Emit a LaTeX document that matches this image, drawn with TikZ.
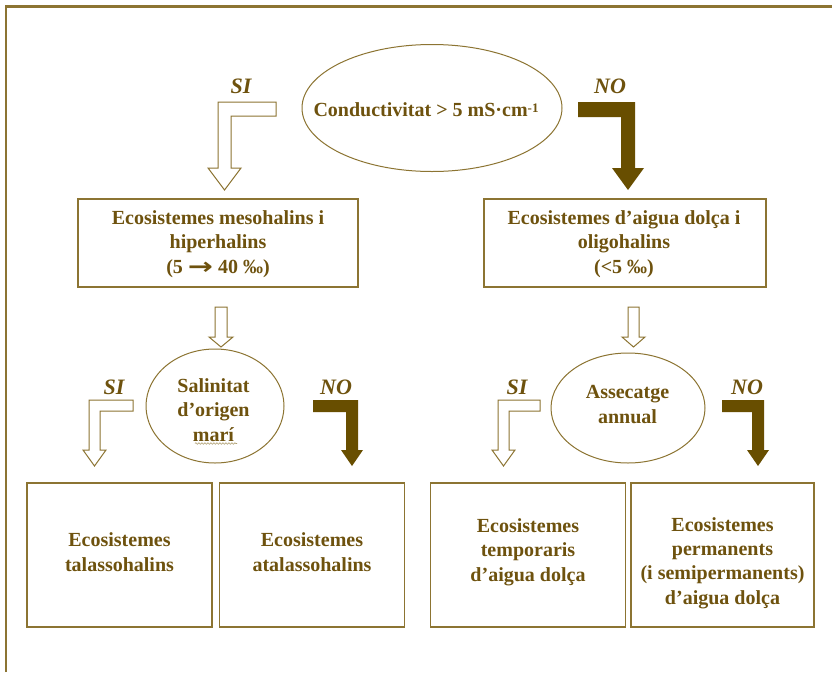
\documentclass[tikz,border=0pt]{standalone}
\usepackage{fontspec}
\setmainfont{Liberation Serif}
\newfontfamily\dejavu{DejaVu Sans}
\usetikzlibrary{shapes.geometric,decorations.pathmorphing}
\definecolor{txtc}{RGB}{110,82,14}
\definecolor{linec}{RGB}{140,116,50}
\definecolor{fillc}{RGB}{104,78,0}
\begin{document}
\begin{tikzpicture}[x=1pt,y=-1pt,
  every node/.style={font=\fontsize{20}{24.3}\selectfont\bfseries, text=txtc, align=center, inner sep=0pt},
  boxn/.style={draw=linec, line width=1.4pt, rectangle},
  elln/.style={draw=linec, line width=1pt, ellipse},
  lab/.style={font=\fontsize{22}{24}\selectfont\bfseries\itshape},
  hollowarrow/.style={draw=linec, line width=1pt, fill=white, line join=miter},
  fullarrow/.style={fill=fillc, draw=none}
]
\useasboundingbox (0,0) rectangle (832,672);
\fill[white] (0,0) rectangle (832,672);
% outer frame
\draw[linec, line width=2.2pt] (6,672) -- (6,6.5) -- (832,6.5);

% top ellipse
\node[elln, minimum width=260, minimum height=127] (e1) at (432,108) {};
\node (t1) at (426,110) {Conductivitat > 5 mS·cm\raisebox{0.5ex}{\fontsize{13}{13}\selectfont -1}};

\node[lab] (si1) at (241,86) {SI};
\node[lab] (no1) at (610,86) {NO};

% first level boxes
\node[boxn, minimum width=280, minimum height=88] (b1) at (218,243) {};
\node (tb1) at (218,244) {Ecosistemes mesohalins i\\hiperhalins\\(5 \raisebox{-0.2ex}{\scalebox{1.5}[1.15]{\dejavu\bfseries →}} 40 ‰)};
\node[boxn, minimum width=282, minimum height=88] (b2) at (625,243) {};
\node (tb2) at (624,244) {Ecosistemes d’aigua dolça i\\oligohalins\\(<5 ‰)};

% top arrows
\draw[hollowarrow] (276,102) -- (218,102) -- (218,168) -- (208,168) -- (224.5,190) -- (241,168) -- (231,168) -- (231,116) -- (276,116) -- cycle;
\fill[fullarrow] (578,102) -- (635,102) -- (635,168) -- (644,168) -- (628,190) -- (612,168) -- (621,168) -- (621,117) -- (578,117) -- cycle;

% small down arrows
\draw[hollowarrow] (215,307) -- (227,307) -- (227,337) -- (233,337) -- (221,347) -- (209,337) -- (215,337) -- cycle;
\draw[hollowarrow] (628,307) -- (639,307) -- (639,337) -- (645,337) -- (633.5,347) -- (622,337) -- (628,337) -- cycle;

% second level ellipses
\node[elln, minimum width=138, minimum height=114] (e2) at (215,406) {};
\node (t2) at (213.5,410) {Salinitat\\d’origen\\marí};
\draw[linec!70, line width=0.6pt, decorate, decoration={snake, segment length=3pt, amplitude=0.8pt}] (195,443.5) -- (237,443.5);
\node[elln, minimum width=154, minimum height=110] (e3) at (628,408) {};
\node (t3) at (627.5,404.5) {Assecatge\\annual};

\node[lab] (si2) at (114,387) {SI};
\node[lab] (no2) at (336,387) {NO};
\node[lab] (si3) at (517,387) {SI};
\node[lab] (no3) at (747,387) {NO};

% second level arrows
\draw[hollowarrow] (133,400) -- (89,400) -- (89,450) -- (83,450) -- (94.5,466) -- (106,450) -- (100,450) -- (100,411) -- (133,411) -- cycle;
\fill[fullarrow] (313,400) -- (358,400) -- (358,450) -- (363,450) -- (352,466) -- (341,450) -- (346,450) -- (346,412) -- (313,412) -- cycle;
\draw[hollowarrow] (540,400) -- (498,400) -- (498,450) -- (492,450) -- (503.5,466) -- (515,450) -- (509,450) -- (509,411) -- (540,411) -- cycle;
\fill[fullarrow] (722,400) -- (764,400) -- (764,450) -- (769,450) -- (758,466) -- (747,450) -- (752,450) -- (752,412) -- (722,412) -- cycle;

% bottom boxes
\node[boxn, minimum width=185, minimum height=144] (bA) at (119.5,555) {};
\node (tA) at (119.5,552) {Ecosistemes\\talassohalins};
\node[boxn, minimum width=185, minimum height=144] (bB) at (312,555) {};
\node (tB) at (312,552) {Ecosistemes\\atalassohalins};
\node[boxn, minimum width=195, minimum height=144] (bC) at (528,555) {};
\node (tC) at (528,552) {Ecosistemes\\temporaris\\d’aigua dolça};
\node[boxn, minimum width=183, minimum height=144] (bD) at (722.5,555) {};
\node (tD) at (722.5,563) {Ecosistemes\\permanents\\(i semipermanents)\\d’aigua dolça};
\end{tikzpicture}
\end{document}
